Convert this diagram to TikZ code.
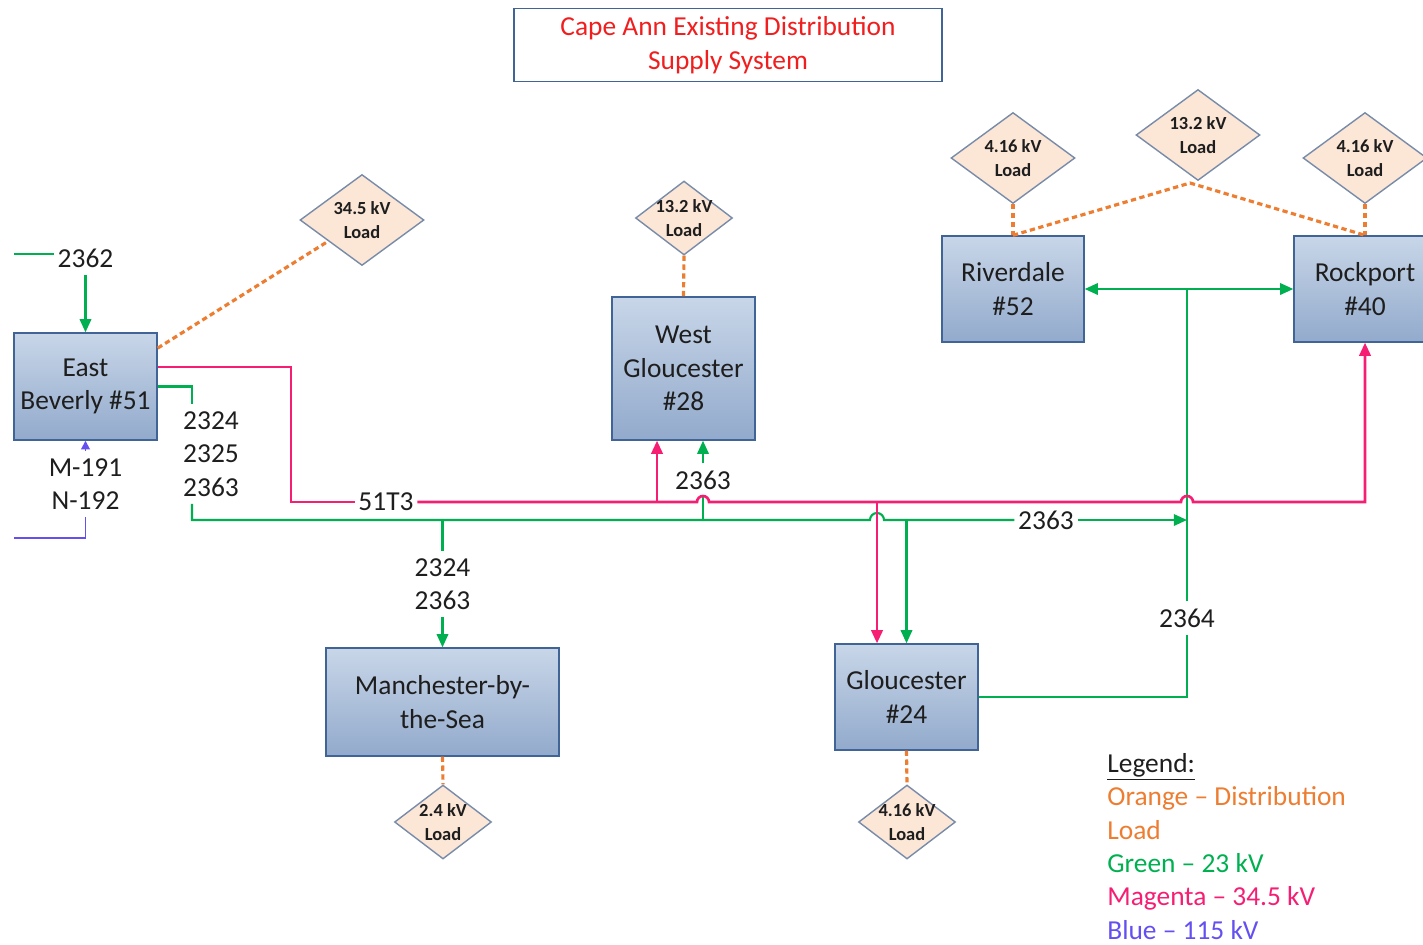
\documentclass[tikz,border=0pt]{standalone}
\usepackage{fontspec}
\setmainfont{Carlito}
\usetikzlibrary{shapes.geometric,arrows.meta}

\definecolor{feedgreen}{RGB}{0,176,80}
\definecolor{feedmag}{RGB}{245,30,115}
\definecolor{feedblue}{RGB}{100,80,240}
\definecolor{loadorange}{RGB}{237,125,49}
\definecolor{boxtop}{RGB}{200,214,232}
\definecolor{boxbot}{RGB}{146,170,204}
\definecolor{boxline}{RGB}{65,100,150}
\definecolor{loadfill}{RGB}{252,230,214}
\definecolor{loadline}{RGB}{120,140,170}
\definecolor{titlered}{RGB}{240,30,30}
\definecolor{inkgrey}{RGB}{30,30,30}

\begin{document}
\begin{tikzpicture}
[
  x=0.02cm, y=-0.02cm,
  font=\fontsize{15.6}{19}\selectfont, text=inkgrey,
  >={Triangle[length=7.5pt,width=6.5pt]},
  station/.style={draw=boxline,thick,top color=boxtop,bottom color=boxbot,align=center,inner sep=0pt},
  loadshape/.style={diamond,draw=loadline,thick,fill=loadfill,inner sep=0pt},
  bigload/.style={loadshape,minimum width=2.48cm,minimum height=1.82cm},
  smallload/.style={loadshape,minimum width=1.94cm,minimum height=1.48cm},
  loadtext/.style={font=\fontsize{10.5}{13.5}\selectfont\bfseries,align=center,inner sep=0pt},
  feeder/.style={align=center,inner xsep=2pt,inner ysep=4pt},
  grn/.style={draw=feedgreen,line width=1.2pt},
  mag/.style={draw=feedmag,line width=1.5pt},
  blu/.style={draw=feedblue,line width=1pt},
  dist/.style={draw=loadorange,line width=1.8pt,dash pattern=on 3pt off 2pt}
]
\useasboundingbox (0,0) rectangle (1423,944);

% title
\node[draw=boxline,thick,text=titlered,minimum width=8.56cm,minimum height=1.46cm,align=center] (title) at (728,45) {Cape Ann Existing Distribution\\Supply System};

% substations
\node[station,minimum width=2.86cm,minimum height=2.14cm] (eb) at (85.5,386.5) {East\\Beverly \#51};
\node[station,minimum width=2.86cm,minimum height=2.86cm] (wg) at (683.5,368.5) {West\\Gloucester\\\#28};
\node[station,minimum width=2.84cm,minimum height=2.12cm] (rd) at (1013,289) {Riverdale\\\#52};
\node[station,minimum width=2.84cm,minimum height=2.12cm] (rp) at (1365,289) {Rockport\\\#40};
\node[station,minimum width=4.66cm,minimum height=2.16cm] (mb) at (442.5,702) {Manchester-by-\\the-Sea};
\node[station,minimum width=2.86cm,minimum height=2.12cm] (gl) at (906.5,697) {Gloucester\\\#24};

% loads
\node[bigload] (ld345) at (362,220) {};
\node[loadtext] (ld345t) at (ld345) {34.5 kV\\Load};
\node[smallload] (ldwg) at (684,218) {};
\node[loadtext] (ldwgt) at (ldwg) {13.2 kV\\Load};
\node[bigload] (ldrd) at (1013,158) {};
\node[loadtext] (ldrdt) at (ldrd) {4.16 kV\\Load};
\node[bigload] (ldtop) at (1198,135) {};
\node[loadtext] (ldtopt) at (ldtop) {13.2 kV\\Load};
\node[bigload] (ldrp) at (1365,158) {};
\node[loadtext] (ldrpt) at (ldrp) {4.16 kV\\Load};
\node[smallload] (ldmb) at (443,822) {};
\node[loadtext] (ldmbt) at (ldmb) {2.4 kV\\Load};
\node[smallload] (ldgl) at (907,822) {};
\node[loadtext] (ldglt) at (ldgl) {4.16 kV\\Load};

% feeder labels
\node[feeder] (n2362) at (85.5,258) {2362};
\node[feeder] (nfeed) at (211,454) {2324\\2325\\2363};
\node[feeder] (nm191) at (85.5,484) {M-191\\N-192};
\node[feeder] (n51t3) at (386,502) {51T3};
\node[feeder] (n2363a) at (703,480) {2363};
\node[feeder] (n2324b) at (442.5,584) {2324\\2363};
\node[feeder] (n2363b) at (1046,520) {2363};
\node[feeder] (n2364) at (1187,618) {2364};

\coordinate (g2362) at (14,254);
\coordinate (b115) at (14,538);
\coordinate (gbusw) at (192,520);
\coordinate (gbuse) at (1187,520);
\coordinate (mbusw) at (291,502);
\coordinate (mbuse) at (rp.south |- mbusw);
\coordinate (wgm) at ([xshift=-0.53cm]wg.south);
\coordinate (glm) at ([xshift=-0.59cm]gl.north);

% distribution loads
\draw[dist] (eb.28) -- (ld345);
\draw[dist] (ldwg.south) -- (wg.north);
\draw[dist] (ldrd.south) -- (rd.north);
\draw[dist] (rd.north) -- (1190,183) -- (rp.north);
\draw[dist] (ldrp.south) -- (rp.north);
\draw[dist] (mb.south) -- (ldmb.north);
\draw[dist] (gl.south) -- (ldgl.north);

% 23 kV
\draw[grn] (g2362) -- (g2362 -| n2362.west);
\draw[grn,->] (n2362.south) -- (eb.north);
\draw[grn] (eb.east) -| (nfeed.north -| gbusw);
\draw[grn] (nfeed.south -| gbusw) -- (gbusw) -- (870,520) arc[start angle=180,end angle=0,radius=0.14cm] -- (n2363b.west);
\draw[grn,->] (n2363b.east) -- (gbuse);
\draw[grn] (mb.north |- gbusw) -- (n2324b.north);
\draw[grn,->] (n2324b.south) -- (mb.north);
\draw[grn] (n2363a.south |- gbusw) -- (n2363a.south);
\draw[grn,->] (n2363a.north) -- (wg.south -| n2363a.north);
\draw[grn,->] (gl.north |- gbusw) -- (gl.north);
\draw[grn,<->] (rd.east) -- (rp.west);
\draw[grn] (n2364.north) -- (n2364.north |- rd.east);
\draw[grn] (gl.east) -| (n2364.south);

% 34.5 kV
\draw[mag] ([yshift=0.39cm]eb.east) -| (mbusw) -- (n51t3.west);
\draw[mag,->] (n51t3.east) -- (697,502) arc[start angle=180,end angle=0,radius=0.12cm] -- (1181,502) arc[start angle=180,end angle=0,radius=0.12cm] -- (mbuse) -- (rp.south);
\draw[mag,->] (wgm |- mbusw) -- (wgm);
\draw[mag,->] (glm |- mbusw) -- (glm);

% 115 kV
\draw[blu] (b115) -| (nm191.south);
\draw[blu,-{Triangle[length=5pt,width=5pt]}] (nm191.north) -- (eb.south);

% legend
\node[anchor=north west,align=left,inner sep=0pt] (legend) at (1107,753) {\underline{Legend:}\\
  \textcolor{loadorange}{Orange -- Distribution}\\
  \textcolor{loadorange}{Load}\\
  \textcolor{feedgreen}{Green -- 23 kV}\\
  \textcolor{feedmag}{Magenta -- 34.5 kV}\\
  \textcolor{feedblue}{Blue -- 115 kV}};
\end{tikzpicture}
\end{document}
